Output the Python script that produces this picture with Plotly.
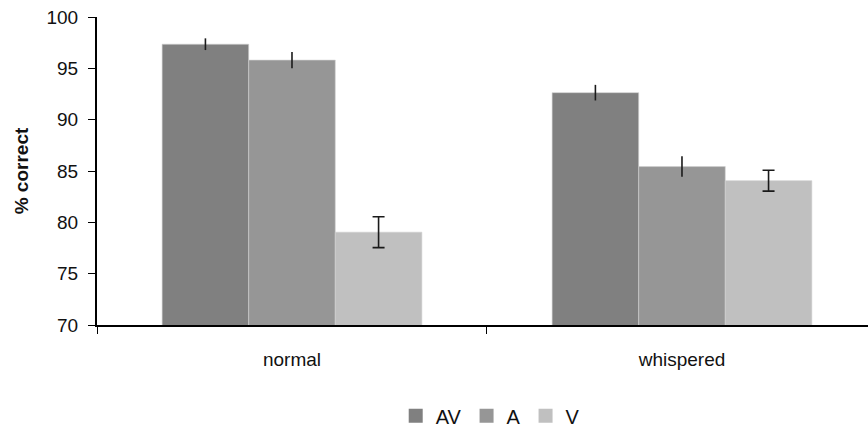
import plotly.graph_objects as go

categories = ["normal", "whispered"]
series_names = ["AV", "A", "V"]
values = {
    "AV": [97.35, 92.63],
    "A": [95.8, 85.43],
    "V": [79.04, 84.06],
}
errors = {
    "AV": [0.57, 0.76],
    "A": [0.78, 1.0],
    "V": [1.5, 1.02],
}
colors = {"AV": "#808080", "A": "#969696", "V": "#c0c0c0"}
cap_widths = {"AV": 0, "A": 0, "V": 6}
y_ticks = [70, 75, 80, 85, 90, 95, 100]

fig = go.Figure()
for name in series_names:
    fig.add_trace(go.Bar(
        x=categories, y=values[name], name=name, showlegend=False,
        marker=dict(color=colors[name], line=dict(color="#d0d0d0", width=0.6)),
        error_y=dict(type="data", array=errors[name], visible=True,
                     color="#1a1a1a", thickness=1.6, width=cap_widths[name]),
    ))
# legend entries with larger square swatches
for name in series_names:
    fig.add_trace(go.Scatter(
        x=[None], y=[None], name=name, mode="markers",
        marker=dict(symbol="square", size=14, color=colors[name]),
        showlegend=True,
    ))

font_family = "Liberation Sans, Arial, sans-serif"
fig.update_layout(
    width=868, height=429,
    margin=dict(l=97, r=0, t=17, b=104, autoexpand=False),
    paper_bgcolor="white", plot_bgcolor="white",
    barmode="group", bargap=0.334, bargroupgap=0,
    font=dict(family=font_family, size=20, color="#111"),
    showlegend=True,
    legend=dict(orientation="h", x=0.51, xanchor="center", y=-0.295, yanchor="middle",
                font=dict(size=20), itemwidth=30, tracegroupgap=0),
    xaxis=dict(
        range=[-0.5, 1.477], showline=True, linecolor="black", linewidth=2,
        ticks="outside", ticklen=7, tickwidth=1.2, tickcolor="black",
        tickson="boundaries", showgrid=False, zeroline=False,
        ticklabelstandoff=16, tickfont=dict(size=19), automargin=False,
    ),
    yaxis=dict(
        range=[70, 100], tickvals=y_ticks, showline=True, linecolor="black", linewidth=2,
        ticks="outside", ticklen=7, tickwidth=1.2, tickcolor="black",
        showgrid=False, zeroline=False, tickfont=dict(size=19),
        ticklabelstandoff=6, automargin=False,
        title=dict(text="<b>% correct</b>", font=dict(size=19), standoff=13),
    ),
)
fig.write_html("out.html")
